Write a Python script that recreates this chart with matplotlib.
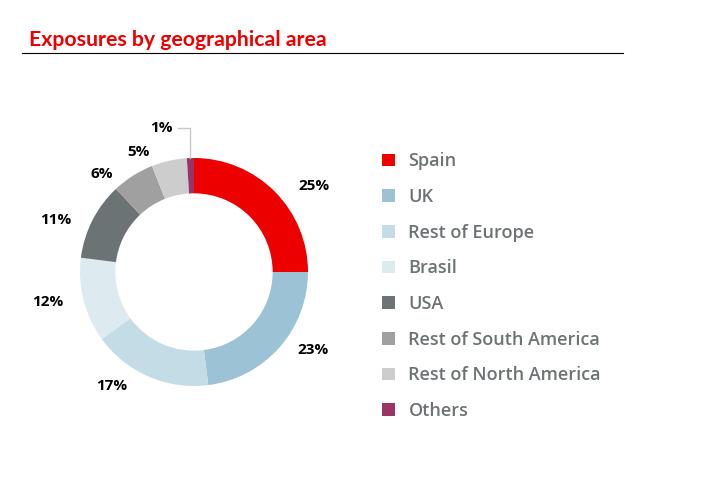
import numpy as np
import matplotlib
matplotlib.use("Agg")
import matplotlib.pyplot as plt

TITLE = "Exposures by geographical area"
regions = ["Spain", "UK", "Rest of Europe", "Brasil", "USA",
           "Rest of South America", "Rest of North America", "Others"]
shares = [25, 23, 17, 12, 11, 6, 5, 1]
colors = ["#EC0000", "#9CC3D5", "#C4DCE6", "#DDEBF0", "#6C7375",
          "#A0A0A0", "#CDCDCD", "#9B3366"]

# label anchors (in pie radius units), placed by hand like the original
label_pos = [(1.05, 0.75), (1.04, -0.68), (-0.72, -1.0), (-1.28, -0.26),
             (-1.21, 0.46), (-0.81, 0.86), (-0.49, 1.05), (-0.29, 1.26)]

fig = plt.figure(figsize=(7.06, 5.03), dpi=100)
W, H = 706, 503
cx, cy, r = 194, 272, 114
ax = fig.add_axes([(cx - r) / W, (H - cy - r) / H, 2 * r / W, 2 * r / H])

wedges, _ = ax.pie(shares, colors=colors, startangle=90, counterclock=False,
                   radius=1.0, wedgeprops=dict(width=0.31, linewidth=0))
ax.set_xlim(-1, 1)
ax.set_ylim(-1, 1)
ax.set_aspect("equal")
ax.axis("off")

for val, (x, y) in zip(shares, label_pos):
    ax.text(x, y, f"{val}%", ha="center", va="center", fontsize=11,
            fontweight="bold", color="black", family="Open Sans", clip_on=False)

# leader line for the smallest slice
w = wedges[-1]
ang = np.deg2rad((w.theta1 + w.theta2) / 2)
ex, ey = np.cos(ang), np.sin(ang)
lx, ly = label_pos[-1]
ax.plot([lx + 0.15, ex, ex], [ly, ly, ey], color="#C8C8C8", lw=1, clip_on=False)

# title and rule
fig.text(29 / W, 1 - 40 / H, TITLE, color="#EC0000", fontsize=15.3,
         family="Lato", fontweight="bold", va="center", ha="left")
fig.add_artist(plt.Line2D([22 / W, 623 / W], [1 - 53 / H, 1 - 53 / H],
                          color="black", lw=0.8))

leg = fig.legend(wedges, regions, loc="upper left",
                 bbox_to_anchor=(366 / W, 1 - 136 / H), frameon=False,
                 handlelength=0.7, handleheight=0.7, handletextpad=0.75,
                 labelspacing=0.98, prop=dict(family="Open Sans", weight="semibold", size=13))
for t in leg.get_texts():
    t.set_color("#6C7375")

fig.savefig("out.png", dpi=100)
